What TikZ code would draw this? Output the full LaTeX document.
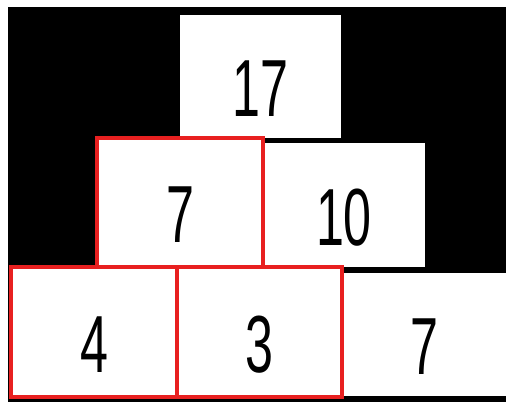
\documentclass[tikz,border=0pt]{standalone}
\usepackage{fontspec}
\setmainfont{Liberation Sans}
\usetikzlibrary{positioning}
\definecolor{boxred}{RGB}{232,32,32}

\begin{document}
\begin{tikzpicture}[x=1pt,y=-1pt,
  cell/.style={rectangle,fill=white,inner sep=0pt,text height=80pt,text depth=0pt,
    font=\fontsize{81}{81}\selectfont},
  redcell/.style={cell,draw=boxred,line width=4pt}]
\useasboundingbox (0,0) rectangle (506,402);
\fill[black] (8,7) rectangle (506,402);
% top row
\node[cell,minimum width=161pt,minimum height=123pt] (top) at (260.5,76.5) {\scalebox{0.62}[1]{17}};
% middle row
\node[cell,minimum width=162pt,minimum height=124pt] (midright) at (344,205) {\scalebox{0.62}[1]{10}};
\node[redcell,minimum width=166pt,minimum height=129pt] (midleft) at (180,202.5) {\scalebox{0.62}[1]{7}};
% bottom row
\node[cell,minimum width=164pt,minimum height=123pt] (botright) at (424,334.5) {\scalebox{0.62}[1]{7}};
\node[redcell,minimum width=166pt,minimum height=130pt] (botleft) at (94,332) {\scalebox{0.62}[1]{4}};
\node[redcell,minimum width=165pt,minimum height=130pt] (botmid) at (259.5,332) {\scalebox{0.62}[1]{3}};
\end{tikzpicture}
\end{document}
